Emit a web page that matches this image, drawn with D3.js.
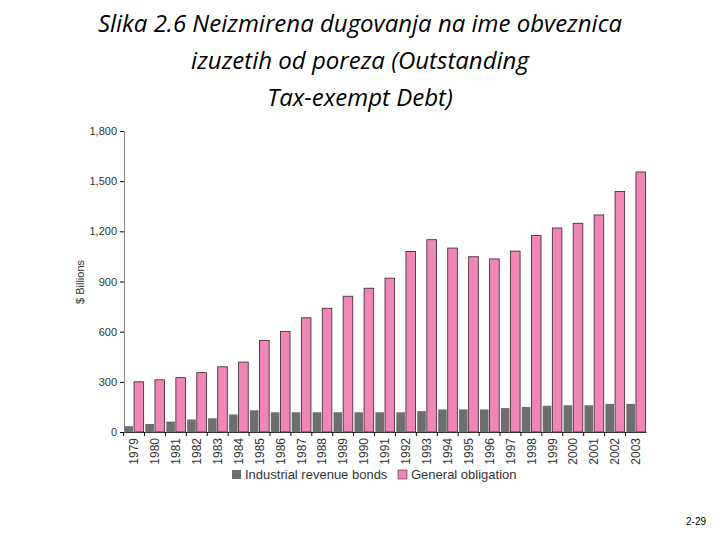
<!DOCTYPE html>
<html><head><meta charset="utf-8">
<script src="https://cdn.jsdelivr.net/npm/d3@7"></script>
<style>body{margin:0;background:#fff}</style></head>
<body><svg id="c" width="720" height="540"></svg>
<script>
const years=["1979","1980","1981","1982","1983","1984","1985","1986","1987","1988","1989","1990","1991","1992","1993","1994","1995","1996","1997","1998","1999","2000","2001","2002","2003"];
const industrial=[35,48,62,75,82,105,130,118,118,118,118,118,118,118,125,135,135,135,143,150,157,160,160,168,168];
const general=[300,312,325,355,390,418,548,602,683,740,812,860,920,1080,1150,1100,1048,1035,1082,1175,1220,1248,1298,1438,1555];
const yTicks=[0,300,600,900,1200,1500,1800];
const titleLines=["Slika 2.6 Neizmirena dugovanja na ime obveznica","izuzetih od poreza (Outstanding","Tax-exempt Debt)"];
const svg=d3.select("#c");
const F="'Liberation Sans', Arial, sans-serif";
svg.selectAll("text.t").data(titleLines).join("text").attr("x",360).attr("y",(d,i)=>32+i*37)
 .attr("text-anchor","middle").attr("font-family","'Open Sans',sans-serif").attr("font-style","italic")
 .attr("font-size",24).attr("fill","#000").text(d=>d);
const x=d3.scaleBand().domain(years).range([124,646]).paddingInner(0.08).paddingOuter(0.02);
const y=d3.scaleLinear().domain([0,1800]).range([432,131]);
const bw=x.bandwidth()/2;
const g=svg.append("g");
g.selectAll("rect.i").data(years).join("rect").attr("x",d=>x(d)).attr("width",bw-1)
 .attr("y",(d,i)=>y(industrial[i])).attr("height",(d,i)=>y(0)-y(industrial[i])).attr("fill","#6d6e70");
g.selectAll("rect.g").data(years).join("rect").attr("x",d=>x(d)+bw).attr("width",bw)
 .attr("y",(d,i)=>y(general[i])).attr("height",(d,i)=>y(0)-y(general[i])).attr("fill","#ee87b6")
 .attr("stroke","#3a1f2a").attr("stroke-width",0.8);
const ya=svg.append("g").attr("transform","translate(124,0)").call(d3.axisLeft(y).tickValues(yTicks).tickSize(4).tickFormat(d3.format(",")));
ya.selectAll("text").attr("font-family",F).attr("font-size",11).attr("fill","#333");
ya.select(".domain").attr("stroke","#888");
const xa=svg.append("g").attr("transform","translate(0,432)").call(d3.axisBottom(x).tickSize(4).tickSizeOuter(0));
xa.selectAll(".tick line").attr("transform",`translate(${-x.step()/2},0)`);
xa.selectAll("text").attr("font-family",F).attr("font-size",12).attr("fill","#333")
 .attr("transform","rotate(-90)").attr("text-anchor","end").attr("x",-6).attr("y",0).attr("dy","0.35em");
xa.select(".domain").attr("stroke","#333");
svg.append("text").attr("transform","translate(84,282) rotate(-90)").attr("text-anchor","middle")
 .attr("font-family",F).attr("font-size",11).attr("fill","#333").text("$ Billions");
const leg=[["Industrial revenue bonds","#6d6e70"],["General obligation","#ee87b6"]];
const lx=[232,398];
leg.forEach((l,i)=>{svg.append("rect").attr("x",lx[i]).attr("y",470).attr("width",9).attr("height",9).attr("fill",l[1]).attr("stroke",i?"#333":"none").attr("stroke-width",0.6);
 svg.append("text").attr("x",lx[i]+13).attr("y",479).attr("font-family",F).attr("font-size",13).attr("fill","#333").text(l[0]);});
svg.append("text").attr("x",706).attr("y",525).attr("text-anchor","end").attr("font-family",F).attr("font-size",10).text("2-29");
</script></body></html>
